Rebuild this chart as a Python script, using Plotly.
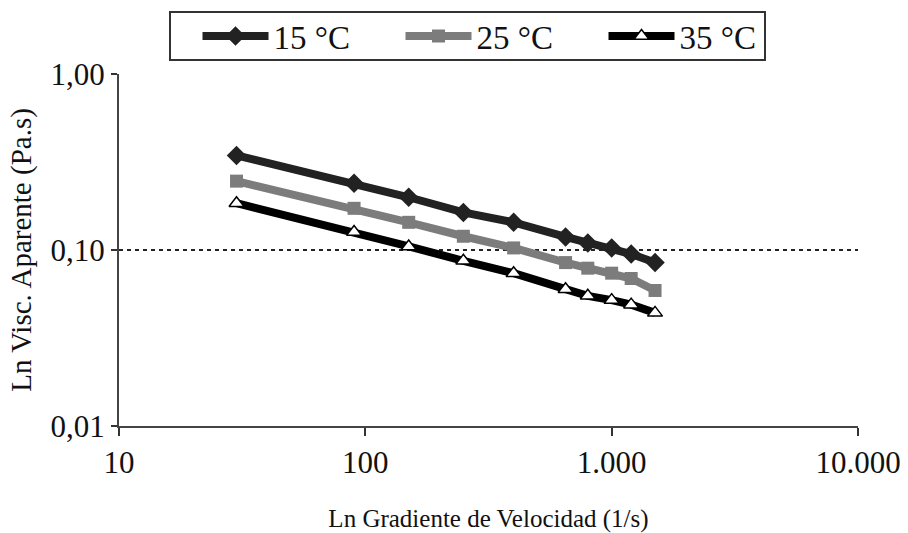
import plotly.graph_objects as go

# Shear rate (1/s) and apparent viscosity (Pa.s) at three temperatures
shear_rate = [30, 90, 150, 250, 400, 650, 800, 1000, 1200, 1500]
visc_15 = [0.346, 0.240, 0.200, 0.164, 0.144, 0.119, 0.110, 0.103, 0.095, 0.085]
visc_25 = [0.247, 0.173, 0.144, 0.120, 0.103, 0.085, 0.079, 0.074, 0.069, 0.059]
visc_35 = [0.185, 0.127, 0.105, 0.087, 0.074, 0.060, 0.055, 0.052, 0.049, 0.044]

series_names = ["15 °C", "25 °C", "35 °C"]
x_ticks = [10, 100, 1000, 10000]
x_ticktext = ["10", "100", "1.000", "10.000"]
y_ticks = [0.01, 0.1, 1]
y_ticktext = ["0,01", "0,10", "1,00"]

FONT = "Liberation Serif, Times New Roman, serif"
W, H = 908, 533
M = dict(l=119, r=50, t=74, b=107)

fig = go.Figure()
fig.add_trace(go.Scatter(
    x=shear_rate, y=visc_15, name=series_names[0], mode="lines+markers",
    line=dict(color="#222222", width=8),
    marker=dict(symbol="diamond", size=15, color="#222222"),
))
fig.add_trace(go.Scatter(
    x=shear_rate, y=visc_25, name=series_names[1], mode="lines+markers",
    line=dict(color="#7c7c7c", width=8),
    marker=dict(symbol="square", size=13, color="#7c7c7c"),
))
fig.add_trace(go.Scatter(
    x=shear_rate, y=visc_35, name=series_names[2], mode="lines+markers",
    line=dict(color="#000000", width=8),
    marker=dict(symbol="triangle-up", size=13, color="white",
                line=dict(color="#000000", width=1.5)),
))

# pixel -> paper helpers for the legend frame
pw = W - M["l"] - M["r"]
ph = H - M["t"] - M["b"]
def px_x(p):
    return (p - M["l"]) / pw
def px_y(p):
    return (H - M["b"] - p) / ph

# legend frame
fig.add_shape(
    type="rect", xref="paper", yref="paper",
    x0=px_x(170), x1=px_x(765), y0=px_y(60), y1=px_y(12),
    line=dict(color="#333333", width=2), fillcolor="rgba(0,0,0,0)",
    layer="above",
)

fig.update_layout(
    width=W, height=H,
    margin=dict(**M, autoexpand=False),
    paper_bgcolor="white", plot_bgcolor="white",
    font=dict(family=FONT, size=28, color="#111111"),
    showlegend=True,
    legend=dict(
        orientation="h", x=px_x(502), xanchor="center", y=px_y(36), yanchor="middle",
        borderwidth=0, bgcolor="rgba(0,0,0,0)",
        font=dict(family=FONT, size=33, color="#111111"),
        itemwidth=66, entrywidth=122, tracegroupgap=0,
    ),
    xaxis=dict(
        type="log", range=[1, 4],
        tickvals=x_ticks, ticktext=x_ticktext,
        ticks="outside", ticklen=8, tickwidth=1.5, tickcolor="#333333",
        showline=True, linecolor="#444444", linewidth=2,
        showgrid=False, zeroline=False,
        title=dict(text="Ln Gradiente de Velocidad (1/s)", standoff=32,
                   font=dict(family=FONT, size=25)),
        tickfont=dict(family=FONT, size=31),
    ),
    yaxis=dict(
        type="log", range=[-2, 0.002],
        tickvals=y_ticks, ticktext=y_ticktext,
        ticks="outside", ticklen=6, tickwidth=1.5, tickcolor="#333333",
        showline=True, linecolor="#444444", linewidth=2,
        showgrid=True, gridcolor="#222222", griddash="4px,4px", gridwidth=2,
        zeroline=False,
        title=dict(text="Ln Visc. Aparente (Pa.s)", standoff=10,
                   font=dict(family=FONT, size=29)),
        tickfont=dict(family=FONT, size=31),
    ),
)

fig.write_html("out.html")
